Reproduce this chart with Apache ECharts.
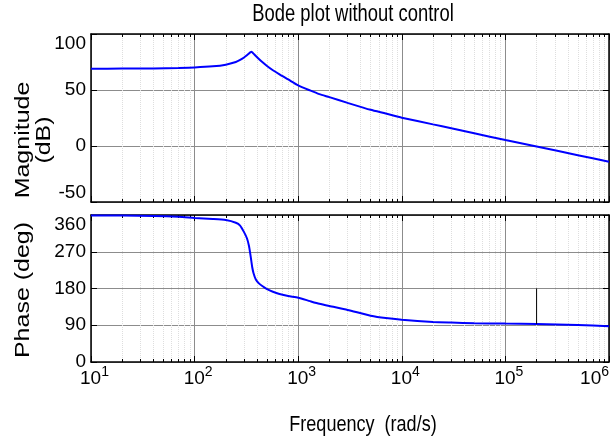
<!DOCTYPE html>
<html>
<head>
<meta charset="utf-8">
<title>Bode plot without control</title>
<script src="https://cdn.jsdelivr.net/npm/echarts@6/dist/echarts.min.js"></script>
<style>
  html, body { margin: 0; padding: 0; background: #fff; }
  #chart { width: 616px; height: 442px; }
</style>
</head>
<body>
<div id="chart"></div>
<script>
// frequency points (rad/s)
const freq = [10, 20, 40, 70, 100, 150, 200, 250, 275, 300, 320, 335, 345, 353, 360, 370, 390, 420, 450, 500, 570, 660, 800, 1000, 1300, 1600, 2000, 3000, 5000, 7000, 1e4, 2e4, 3e4, 5e4, 1e5, 2e5, 5e5, 1e6]
// magnitude (dB)
const magnitude = [69.0, 69.1, 69.3, 69.7, 70.1, 71.1, 72.6, 75.0, 76.8, 79.0, 81.0, 82.6, 83.6, 84.2, 83.6, 82.5, 80.3, 77.4, 74.9, 71.4, 67.6, 63.9, 59.4, 54.1, 49.6, 46.3, 43.6, 38.5, 32.3, 29.0, 25.3, 19.3, 15.9, 11.4, 5.3, -0.4, -8.2, -14.1]
// phase (deg)
const phase = [359, 358.6, 357.8, 355.5, 352.8, 350.2, 347.5, 341, 334, 318, 303, 284, 264, 247, 232, 218, 202, 192, 186, 178.5, 172, 166.5, 161.5, 157.5, 149, 142.5, 137, 127.5, 113.5, 107.5, 103.5, 98, 96.5, 95, 94, 93.3, 90.5, 87.6]
// thin black marker line in the phase plot
const markFreq = [2e5, 2e5]
const markPhase = [180, 93.3]

const decades = [10, 100, 1e3, 1e4, 1e5, 1e6]
const magTicks = { min: -50, max: 100, interval: 50 }
const phaseTicks = { min: 0, max: 360, interval: 90 }

let minorValues = []
for (let i = 0; i < decades.length - 1; i++) {
  for (let k = 2; k <= 9; k++) minorValues.push(decades[i] * k)
}

const sans = '"Liberation Sans", Arial, sans-serif'
const boxLine = { show: true, lineStyle: { color: '#000', width: 1.5 } }

function xAxes(gridIndex, withLabels) {
  return [
    {
      type: 'log', logBase: 10, gridIndex, min: 10, max: 1e6, position: 'bottom',
      axisLine: { ...boxLine, onZero: false },
      axisTick: { inside: true, length: 6, customValues: decades, lineStyle: { color: '#000' } },
      axisLabel: {
        show: withLabels, customValues: decades, margin: 3, color: '#000',
        alignMaxLabel: 'right',
        formatter: v => '{p|}{b|10}{s|' + Math.round(Math.log10(v)) + '}',
        rich: {
          p: { width: 7 },
          b: { fontSize: 19, fontFamily: sans, verticalAlign: 'bottom', color: '#000' },
          s: { fontSize: 14, fontFamily: sans, verticalAlign: 'top', padding: [0, 0, 9, 0], color: '#000' }
        }
      },
      splitLine: { show: true, lineStyle: { color: '#8c8c8c', width: 1 } }
    },
    {
      type: 'log', logBase: 10, gridIndex, min: 10, max: 1e6, position: 'top',
      axisLine: { ...boxLine, onZero: false },
      axisTick: { inside: true, length: 6, customValues: decades, lineStyle: { color: '#000' } },
      axisLabel: { show: false },
      splitLine: { show: false }
    },
    {
      type: 'log', logBase: 10, gridIndex, min: 10, max: 1e6, position: 'bottom',
      axisLine: { show: false, onZero: false },
      axisTick: { inside: true, length: 3, customValues: minorValues, lineStyle: { color: '#000' } },
      axisLabel: { show: false },
      splitLine: { show: true, lineStyle: { color: '#dedede', width: 1, type: 'dotted' } }
    },
    {
      type: 'log', logBase: 10, gridIndex, min: 10, max: 1e6, position: 'top',
      axisLine: { show: false, onZero: false },
      axisTick: { inside: true, length: 3, customValues: minorValues, lineStyle: { color: '#000' } },
      axisLabel: { show: false },
      splitLine: { show: false }
    }
  ]
}

function yAxes(gridIndex, ticks, minAlign, maxAlign) {
  return [
    {
      type: 'value', gridIndex, position: 'left', ...ticks,
      axisLine: { ...boxLine, onZero: false },
      axisTick: { inside: true, length: 6, lineStyle: { color: '#000' } },
      axisLabel: {
        margin: 5, fontSize: 19, fontFamily: sans, color: '#000',
        verticalAlignMinLabel: minAlign, verticalAlignMaxLabel: maxAlign
      },
      splitLine: { show: true, lineStyle: { color: '#8c8c8c', width: 1 } }
    },
    {
      type: 'value', gridIndex, position: 'right', ...ticks,
      axisLine: { ...boxLine, onZero: false },
      axisTick: { inside: true, length: 6, lineStyle: { color: '#000' } },
      axisLabel: { show: false },
      splitLine: { show: false }
    }
  ]
}

const chart = echarts.init(document.getElementById('chart'))
chart.setOption({
  animation: false,
  backgroundColor: '#fff',
  grid: [
    { left: 91, right: 7, top: 34, height: 168, outerBoundsMode: 'none', containLabel: false },
    { left: 91, right: 7, top: 215, height: 147, outerBoundsMode: 'none', containLabel: false }
  ],
  xAxis: [...xAxes(0, false), ...xAxes(1, true)],
  yAxis: [...yAxes(0, magTicks, 'bottom', 'top'), ...yAxes(1, phaseTicks, 'middle', 'top')],
  graphic: [
    {
      // title, squeezed like the original
      type: 'text', x: 353, y: 15, scaleX: 0.8,
      style: {
        text: 'Bode plot without control', align: 'center', verticalAlign: 'middle',
        fontSize: 23, fontFamily: sans, fill: '#000'
      }
    },
    {
      type: 'text', x: 34, y: 140, rotation: Math.PI / 2, scaleY: 0.78,
      style: {
        text: 'Magnitude\n(dB)', align: 'center', verticalAlign: 'middle', lineHeight: 26,
        fontSize: 25, fontFamily: sans, fill: '#000'
      }
    },
    {
      type: 'text', x: 24, y: 290, rotation: Math.PI / 2, scaleY: 0.78,
      style: {
        text: 'Phase (deg)', align: 'center', verticalAlign: 'middle',
        fontSize: 25, fontFamily: sans, fill: '#000'
      }
    },
    {
      type: 'text', x: 363, y: 425, scaleX: 0.82,
      style: {
        text: 'Frequency  (rad/s)', align: 'center', verticalAlign: 'middle',
        fontSize: 22, fontFamily: sans, fill: '#000'
      }
    }
  ],
  series: [
    {
      name: 'Magnitude', type: 'line', xAxisIndex: 0, yAxisIndex: 0,
      data: freq.map((f, i) => [f, magnitude[i]]),
      showSymbol: false, smooth: 0.2,
      lineStyle: { color: '#0000ff', width: 2 }
    },
    {
      name: 'Phase', type: 'line', xAxisIndex: 4, yAxisIndex: 2,
      data: freq.map((f, i) => [f, phase[i]]),
      showSymbol: false, smooth: 0.2,
      lineStyle: { color: '#0000ff', width: 2 }
    },
    {
      name: 'marker', type: 'line', xAxisIndex: 4, yAxisIndex: 2,
      data: markFreq.map((f, i) => [f, markPhase[i]]),
      showSymbol: false,
      lineStyle: { color: '#000', width: 1 }
    }
  ]
})
</script>
</body>
</html>
